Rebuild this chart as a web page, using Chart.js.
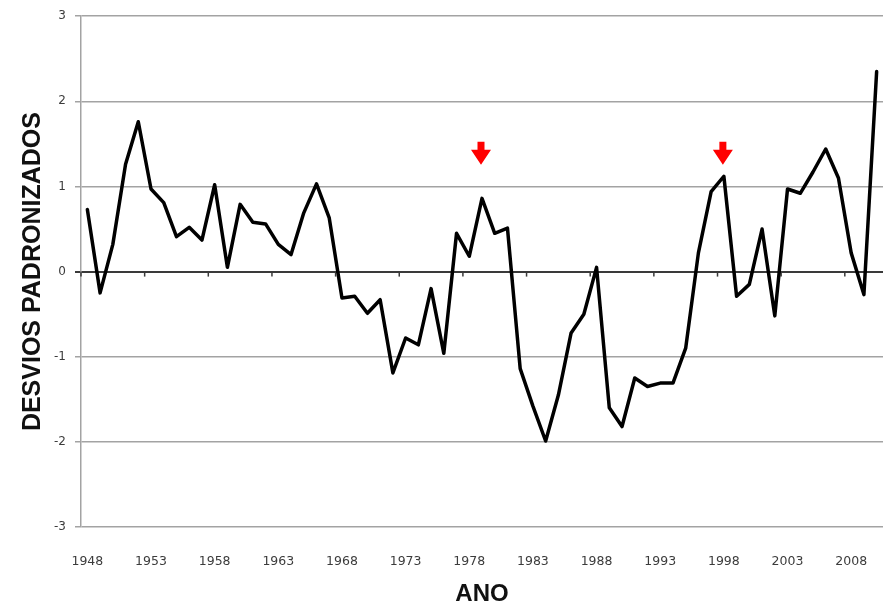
<!DOCTYPE html>
<html>
<head>
<meta charset="utf-8">
<script src="https://cdn.jsdelivr.net/npm/chart.js@4.4.1/dist/chart.umd.min.js"></script>
<style>
  html, body { margin: 0; padding: 0; background: #ffffff; }
  #wrap { width: 883px; height: 606px; }
</style>
</head>
<body>
<div id="wrap"><canvas id="c" width="883" height="606"></canvas></div>
<script>
// ---- data ----
const years = [];
for (let y = 1948; y <= 2010; y++) years.push(String(y));

const desvios = [
  0.73, -0.25, 0.32, 1.26, 1.76, 0.97, 0.81, 0.41, 0.52, 0.37,   // 1948-1957
  1.02, 0.05, 0.79, 0.58, 0.56, 0.32, 0.20, 0.69, 1.03, 0.63,    // 1958-1967
  -0.31, -0.29, -0.49, -0.33, -1.19, -0.78, -0.86, -0.20, -0.96, 0.45, // 1968-1977
  0.18, 0.86, 0.45, 0.51, -1.14, -1.58, -1.99, -1.45, -0.72, -0.50,    // 1978-1987
  0.05, -1.60, -1.82, -1.25, -1.35, -1.31, -1.31, -0.90, 0.22, 0.94,   // 1988-1997
  1.12, -0.29, -0.15, 0.50, -0.52, 0.97, 0.92, 1.17, 1.44, 1.10,       // 1998-2007
  0.22, -0.27, 2.35                                                    // 2008-2010
];

const tickYears = ['1948','1953','1958','1963','1968','1973','1978','1983','1988','1993','1998','2003','2008'];
const yTicks = [-3, -2, -1, 0, 1, 2, 3];
const arrowYears = ['1979', '1998'];

const yTitle = 'DESVIOS PADRONIZADOS';
const xTitle = 'ANO';

// ---- plugins ----
const zeroAxisTicks = {
  id: 'zeroAxisTicks',
  beforeDatasetsDraw(chart) {
    const xs = chart.scales.x, ys = chart.scales.y, ctx = chart.ctx;
    const y0 = ys.getPixelForValue(0);
    ctx.save();
    ctx.strokeStyle = '#3a3a3a';
    ctx.lineWidth = 1.5;
    years.forEach((yr, i) => {
      if (!tickYears.includes(yr)) return;
      const px = i === 0 ? xs.left : (xs.getPixelForValue(i - 1) + xs.getPixelForValue(i)) / 2;
      ctx.beginPath();
      ctx.moveTo(px, y0);
      ctx.lineTo(px, y0 + 5);
      ctx.stroke();
    });
    ctx.restore();
  }
};

const redArrows = {
  id: 'redArrows',
  afterDatasetsDraw(chart) {
    const xs = chart.scales.x, ys = chart.scales.y, ctx = chart.ctx;
    const top = ys.getPixelForValue(1.525);
    const neck = ys.getPixelForValue(1.43);
    const tip = ys.getPixelForValue(1.255);
    ctx.save();
    ctx.fillStyle = '#ff0000';
    arrowYears.forEach(yr => {
      const i = years.indexOf(yr);
      const cx = xs.getPixelForValue(i) - 1;
      ctx.beginPath();
      ctx.moveTo(cx - 3.5, top);
      ctx.lineTo(cx + 3.5, top);
      ctx.lineTo(cx + 3.5, neck);
      ctx.lineTo(cx + 10, neck);
      ctx.lineTo(cx, tip);
      ctx.lineTo(cx - 10, neck);
      ctx.lineTo(cx - 3.5, neck);
      ctx.closePath();
      ctx.fill();
    });
    ctx.restore();
  }
};

// ---- chart ----
new Chart(document.getElementById('c'), {
  type: 'line',
  data: {
    labels: years,
    datasets: [{
      data: desvios,
      borderColor: '#000000',
      borderWidth: 3.5,
      pointRadius: 0,
      tension: 0,
      fill: false,
      borderJoinStyle: 'round',
      borderCapStyle: 'round'
    }]
  },
  options: {
    responsive: false,
    animation: false,
    devicePixelRatio: 1,
    layout: { padding: { top: 15, left: 0, right: 0, bottom: 0 } },
    plugins: {
      legend: { display: false },
      tooltip: { enabled: false }
    },
    scales: {
      x: {
        type: 'category',
        offset: true,
        position: 'bottom',
        border: { display: false },
        grid: { display: false, drawTicks: false },
        ticks: {
          autoSkip: false,
          maxRotation: 0,
          minRotation: 0,
          padding: 27,
          color: '#3c3c3c',
          font: { family: 'DejaVu Sans', size: 12.5 },
          callback: function (v, i) {
            const lab = years[i];
            return tickYears.includes(lab) ? lab : null;
          }
        },
        title: {
          display: true,
          text: xTitle,
          color: '#111111',
          font: { family: 'Liberation Sans', size: 24, weight: 'bold', lineHeight: 1 },
          padding: { top: 0, bottom: 0 }
        },
        afterFit(scale) {
          scale.height = 79;
          scale.paddingLeft = 0;
          scale.paddingRight = 0;
        }
      },
      y: {
        min: -3,
        max: 3,
        afterBuildTicks(scale) { scale.ticks = yTicks.map(v => ({ value: v })); },
        border: { display: true, color: '#a3a3a3', width: 1.5 },
        grid: {
          color: c => (c.tick && c.tick.value === 0) ? '#3a3a3a' : '#a3a3a3',
          lineWidth: c => (c.tick && c.tick.value === 0) ? 2 : 1.5,
          tickLength: 6,
          drawTicks: true
        },
        ticks: {
          padding: 9,
          color: '#3c3c3c',
          font: { family: 'DejaVu Sans', size: 12 }
        },
        title: {
          display: true,
          text: yTitle,
          color: '#111111',
          font: { family: 'Liberation Sans', size: 25, weight: 'bold', lineHeight: 1.2 },
          padding: { top: 18, bottom: 0 }
        },
        afterFit(scale) { scale.width = 81; }
      }
    }
  },
  plugins: [zeroAxisTicks, redArrows]
});
</script>
</body>
</html>
